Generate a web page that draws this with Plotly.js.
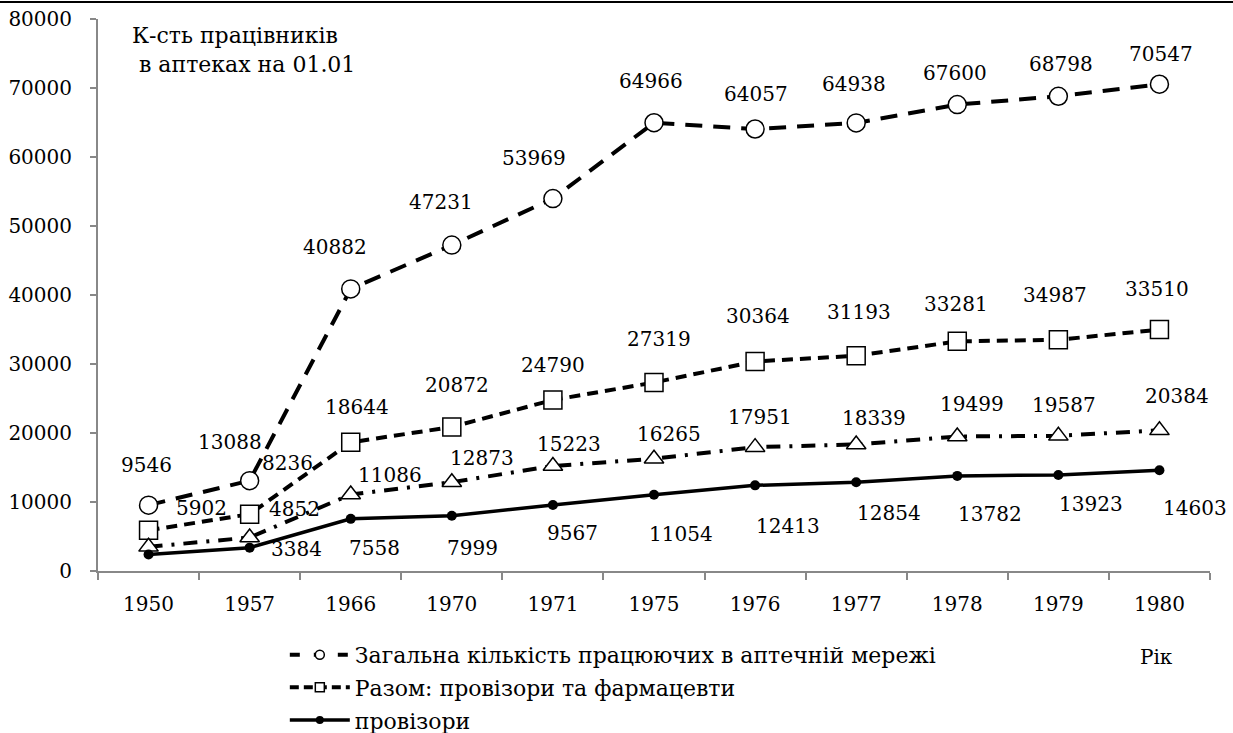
<!DOCTYPE html>
<html>
<head>
<meta charset="utf-8">
<script src="https://cdn.plot.ly/plotly-3.0.1.min.js"></script>
<style>
html,body{margin:0;padding:0;background:#fff;}
#chart{width:1233px;height:733px;position:relative;}
</style>
</head>
<body>
<div id="chart"></div>
<script>
// ---- data ----
const years = ['1950','1957','1966','1970','1971','1975','1976','1977','1978','1979','1980'];
const totalWorkers = [9546,13088,40882,47231,53969,64966,64057,64938,67600,68798,70547];
const totalWorkersLabels = ['9546','13088','40882','47231','53969','64966','64057','64938','67600','68798','70547'];
const provPharmTotal = [5902,8236,18644,20872,24790,27319,30364,31193,33281,33510,34987];
const provPharmLabels = ['5902','8236','18644','20872','24790','27319','30364','31193','33281','34987','33510'];
const pharmacists = [3500,4852,11086,12873,15223,16265,17951,18339,19499,19587,20384];
const pharmacistsLabels = ['','4852','11086','12873','15223','16265','17951','18339','19499','19587','20384'];
const provisors = [2402,3384,7558,7999,9567,11054,12413,12854,13782,13923,14603];
const provisorsLabels = ['','3384','7558','7999','9567','11054','12413','12854','13782','13923','14603'];
const seriesNames = ['Загальна кількість працюючих в аптечній мережі','Разом: провізори та фармацевти','фармацевти','провізори'];
const yTitleText = 'К-сть працівників<br> в аптеках на 01.01';
const xTitleText = 'Рік';

// ---- label placement (pixel offsets: dx right, dy down) ----
const offTotal = [[-2,-40],[-20,-39],[-16,-42],[-11,-43],[-19,-41],[-3,-42],[1,-35],[-2,-39],[-2,-32],[3,-32],[2,-30]];
const offPP = [[53,-22],[38,-51],[6,-35],[5,-42],[0,-35],[5,-44],[3,-45],[3,-44],[-1,-37],[-3,-45],[-2,-41]];
const offPh = [null,[45,-29],[39,-20],[30,-24],[16,-22],[15,-25],[5,-30],[18,-26],[15,-32],[6,-31],[18,-34]];
const offPr = [null,[47,1],[24,29],[21,32],[20,28],[27,39],[33,41],[33,31],[33,38],[33,29],[36,38]];

const FONT = 'DejaVu Serif';
const mk = (sym, size, fill) => ({symbol: sym, size: size, color: fill, line: {color: '#000', width: 1.5}});

const traces = [
  {x: years, y: totalWorkers, type: 'scatter', mode: 'lines+markers', name: seriesNames[0], showlegend: false,
   line: {color: '#000', width: 4, dash: '17px,11px'}, marker: mk('circle', 18, '#fff')},
  {x: years, y: provPharmTotal, type: 'scatter', mode: 'lines+markers', name: seriesNames[1], showlegend: false,
   line: {color: '#000', width: 4, dash: '11px,7px'}, marker: mk('square', 18, '#fff')},
  {x: years, y: pharmacists, type: 'scatter', mode: 'lines+markers', name: seriesNames[2], showlegend: false,
   line: {color: '#000', width: 4, dash: '14px,9px,3px,9px'}, marker: mk('triangle-up', 17, '#fff')},
  {x: years, y: provisors, type: 'scatter', mode: 'lines+markers', name: seriesNames[3], showlegend: false,
   line: {color: '#000', width: 3.5}, marker: {symbol: 'circle', size: 10, color: '#000'}},
  // legend-only entries (smaller legend markers, as in the reference legend)
  {x: [null], y: [null], type: 'scatter', mode: 'lines+markers', name: seriesNames[0], legendgroup: 'g1',
   line: {color: '#000', width: 4, dash: '10px,14px'}, marker: mk('circle', 9, '#fff')},
  {x: [null], y: [null], type: 'scatter', mode: 'lines+markers', name: seriesNames[1], legendgroup: 'g2',
   line: {color: '#000', width: 4, dash: '9px,5px'}, marker: mk('square', 9, '#fff')},
  {x: [null], y: [null], type: 'scatter', mode: 'lines+markers', name: seriesNames[3], legendgroup: 'g3',
   line: {color: '#000', width: 3.5}, marker: {symbol: 'circle', size: 8, color: '#000'}}
];

const annotations = [];
function addLabels(vals, labels, offs) {
  for (let i = 0; i < years.length; i++) {
    if (!labels[i] || !offs[i]) continue;
    annotations.push({x: i, y: vals[i], xref: 'x', yref: 'y', text: labels[i], showarrow: false,
      xshift: offs[i][0], yshift: -offs[i][1], xanchor: 'center', yanchor: 'middle',
      font: {family: FONT, size: 20}});
  }
}
addLabels(totalWorkers, totalWorkersLabels, offTotal);
addLabels(provPharmTotal, provPharmLabels, offPP);
addLabels(pharmacists, pharmacistsLabels, offPh);
addLabels(provisors, provisorsLabels, offPr);
annotations.push({xref: 'paper', yref: 'paper', x: 0.0288, y: 0.997, xanchor: 'left', yanchor: 'top', align: 'left',
  text: yTitleText, showarrow: false, font: {family: FONT, size: 22}});
annotations.push({xref: 'paper', yref: 'paper', x: 0.952, y: -0.156, xanchor: 'center', yanchor: 'middle',
  text: xTitleText, showarrow: false, font: {family: FONT, size: 20}});

const layout = {
  width: 1233, height: 733,
  margin: {l: 98, r: 23, t: 19, b: 162, autoexpand: false},
  font: {family: FONT, size: 20, color: '#000'},
  xaxis: {type: 'category', range: [-0.5, 10.5], showgrid: false, zeroline: false,
    showline: true, linecolor: '#888', linewidth: 2, ticks: 'outside', tickson: 'boundaries',
    ticklen: 7, tickcolor: '#888', tickwidth: 2, ticklabelstandoff: 14},
  yaxis: {range: [0, 80000], dtick: 10000, showgrid: false, zeroline: false,
    showline: true, linecolor: '#888', linewidth: 2, ticks: 'outside', ticklen: 6,
    tickcolor: '#888', tickwidth: 2, ticklabelstandoff: 14, tickformat: 'd'},
  legend: {x: 0.168, y: -0.114, xanchor: 'left', yanchor: 'top', orientation: 'v',
    bgcolor: 'rgba(0,0,0,0)', itemwidth: 60, tracegroupgap: 1, font: {size: 22}},
  annotations: annotations,
  shapes: [{type: 'line', xref: 'paper', yref: 'paper', x0: -0.1, x1: 1.03, y0: 1.031, y1: 1.031,
    line: {color: '#000', width: 2}}]
};

Plotly.newPlot('chart', traces, layout, {displayModeBar: false});
</script>
</body>
</html>
